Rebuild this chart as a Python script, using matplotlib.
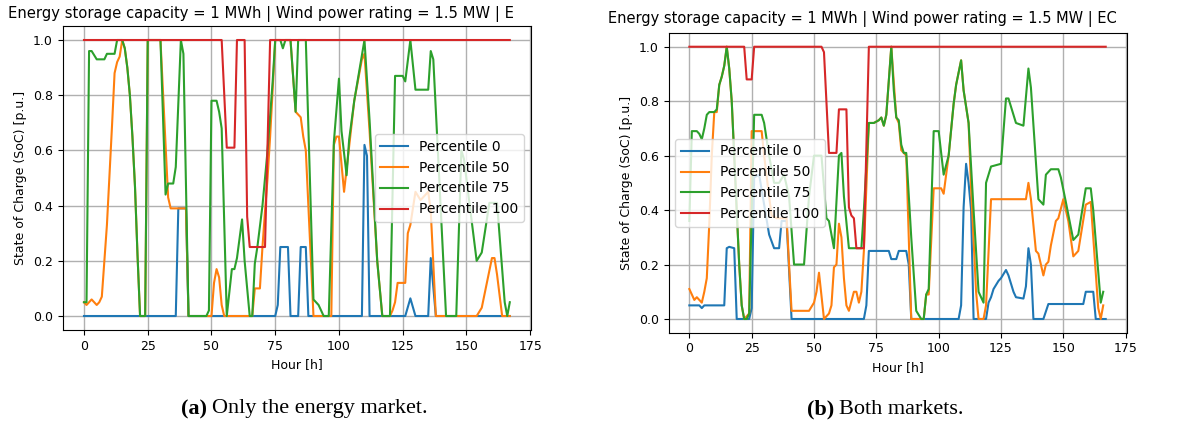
import matplotlib.pyplot as plt

# ---------------------------------------------------------------
# State of charge per percentile, hourly breakpoints (hour, SoC)
# ---------------------------------------------------------------
# (a) energy market only
em_p0_h = [0, 36, 37, 40, 41, 75, 76, 77, 80, 81, 84, 85, 87, 88, 109, 110, 111, 112,
           126, 128, 130, 135, 136, 138, 167]
em_p0_v = [0, 0, 0.39, 0.39, 0, 0, 0.04, 0.25, 0.25, 0, 0, 0.25, 0.25, 0, 0, 0.62, 0.58, 0,
           0, 0.064, 0, 0, 0.21, 0, 0]

em_p50_h = [0, 1, 2, 3, 4, 5, 6, 7, 9, 11, 12, 13, 14, 15, 16, 17, 18, 19, 20, 21, 22, 24, 25,
            30, 33, 34, 40, 41, 50, 51, 52, 53, 54, 55, 66, 67, 69, 70, 71, 72, 73, 74, 75,
            81, 83, 85, 86, 87, 90, 97, 98, 99, 100, 102, 106, 109, 110, 112, 115, 117,
            120, 121, 122, 123, 126, 127, 128, 130, 132, 134, 135, 136, 138,
            154, 156, 158, 160, 161, 162, 164, 167]
em_p50_v = [0.05, 0.04, 0.05, 0.06, 0.05, 0.04, 0.05, 0.07, 0.33, 0.69, 0.88, 0.92, 0.94, 1.0, 0.97,
            0.9, 0.8, 0.65, 0.47, 0.22, 0, 0, 1.0,
            1.0, 0.43, 0.39, 0.39, 0, 0, 0.12, 0.17, 0.14, 0.04, 0, 0, 0.1, 0.1, 0.25, 0.38, 0.5,
            0.65, 0.82, 1.0,
            1.0, 0.74, 0.72, 0.65, 0.6, 0, 0, 0.62, 0.65, 0.65, 0.45, 0.78, 0.93, 0.95, 0.67, 0.2, 0,
            0, 0.02, 0.05, 0.12, 0.12, 0.3, 0.33, 0.45, 0.42, 0.44, 0.45, 0.38, 0,
            0, 0.03, 0.12, 0.21, 0.21, 0.15, 0, 0]

em_p75_h = [0, 1, 2, 3, 5, 8, 9, 12, 13, 15, 16, 17, 18, 19, 20, 21, 22, 24, 25, 30, 32, 33,
            35, 36, 38, 39, 41, 48, 49, 50, 52, 53, 54, 56, 58, 59, 60, 62, 63, 65, 66, 67, 68,
            70, 72, 74, 75, 77, 78, 79, 81, 83, 84, 87, 90, 92, 94, 96, 98, 100, 101, 103,
            104, 106, 110, 112, 115, 117, 120, 122, 125, 126, 128, 130, 135, 136, 137, 142,
            146, 148, 149, 154, 156, 159, 162, 165, 166, 167]
em_p75_v = [0.05, 0.05, 0.96, 0.96, 0.93, 0.93, 0.95, 0.95, 1.0, 1.0, 0.97, 0.9, 0.8, 0.65, 0.47,
            0.22, 0, 0, 1.0, 1.0, 0.44, 0.48,
            0.48, 0.54, 1.0, 0.95, 0, 0, 0.02, 0.78, 0.78, 0.74, 0.68, 0, 0.17, 0.17, 0.21, 0.35,
            0.2, 0, 0, 0.19, 0.25,
            0.4, 0.6, 0.85, 1.0, 1.0, 0.97, 1.0, 1.0, 0.74, 1.0, 1.0, 0.06, 0.04, 0, 0, 0.63,
            0.86, 0.67, 0.51,
            0.64, 0.78, 1.0, 0.71, 0.2, 0, 0, 0.87, 0.87, 0.85, 1.0, 0.82, 0.82, 0.96, 0.93, 0,
            0, 0.6, 0.57, 0.2, 0.23, 0.41, 0.41, 0.05, 0, 0.05]

em_p100_h = [0, 54, 56, 59, 60, 63, 64, 65, 71, 73, 167]
em_p100_v = [1, 1, 0.61, 0.61, 1, 1, 0.36, 0.25, 0.25, 1, 1]

# (b) both markets
bm_p0_h = [0, 3, 4, 5, 6, 14, 15, 16, 18, 19, 24, 25, 26, 28, 30, 32, 34, 36, 37, 39, 41,
           70, 71, 72, 80, 81, 83, 84, 87, 88, 89, 108, 109, 110, 111, 112, 113, 114,
           119, 120, 121, 122, 124, 125, 127, 128, 130, 131, 134, 135, 136, 137, 138,
           142, 144, 158, 159, 162, 163, 167]
bm_p0_v = [0.05, 0.05, 0.05, 0.04, 0.05, 0.05, 0.26, 0.265, 0.26, 0, 0, 0.04, 0.52, 0.53, 0.42,
           0.31, 0.26, 0.26, 0.36, 0.36, 0,
           0, 0.05, 0.25, 0.25, 0.22, 0.22, 0.25, 0.25, 0.2, 0, 0, 0.05, 0.41, 0.57, 0.5, 0.4, 0,
           0, 0.06, 0.08, 0.11, 0.14, 0.15, 0.18, 0.16, 0.1, 0.08, 0.075, 0.12, 0.26, 0.2, 0,
           0, 0.055, 0.055, 0.1, 0.1, 0, 0]

bm_p50_h = [0, 1, 2, 3, 4, 5, 6, 7, 8, 9, 10, 11, 12, 13, 14, 15, 16, 17, 18, 19, 20, 21, 22,
            24, 25, 29, 30, 32, 33, 35, 39, 41, 48, 50, 51, 52, 54, 56, 57, 58, 59, 60, 61, 62,
            63, 64, 66, 67, 68, 69, 70, 72, 74, 76, 77, 78, 79, 81, 83, 84, 85, 87, 89, 94,
            95, 96, 98, 101, 102, 104, 106, 107, 109, 110, 112, 113, 115, 116, 118, 119, 121,
            135, 136, 137, 139, 140, 142, 143, 144, 145, 147, 148, 150, 152, 154, 156, 159,
            161, 164, 165, 166]
bm_p50_v = [0.11, 0.09, 0.07, 0.08, 0.07, 0.06, 0.1, 0.15, 0.35, 0.6, 0.76, 0.76, 0.86, 0.89,
            0.93, 1.0, 0.92, 0.8, 0.6, 0.4, 0.2, 0.05, 0,
            0.02, 0.69, 0.69, 0.6, 0.45, 0.38, 0.37, 0.37, 0.03, 0.03, 0.06, 0.1, 0.17, 0, 0.02,
            0.05, 0.19, 0.2, 0.35, 0.3, 0.15,
            0.05, 0.03, 0.1, 0.1, 0.06, 0.1, 0.25, 0.72, 0.72, 0.73, 0.74, 0.71, 0.75, 1.0, 0.74,
            0.72, 0.62, 0.6, 0, 0,
            0.09, 0.09, 0.48, 0.48, 0.46, 0.6, 0.79, 0.86, 0.95, 0.84, 0.72, 0.48, 0.1, 0, 0,
            0.05, 0.44,
            0.44, 0.5, 0.44, 0.25, 0.24, 0.16, 0.2, 0.21, 0.27, 0.36, 0.37, 0.44, 0.36, 0.23,
            0.25, 0.42,
            0.43, 0.04, 0, 0.05]

bm_p75_h = [0, 1, 3, 4, 5, 6, 7, 8, 10, 11, 12, 13, 14, 15, 16, 17, 18, 19, 20, 21, 22, 23,
            24, 26, 29, 30, 32, 34, 36, 38, 40, 42, 46, 48, 50, 52, 53, 55, 56, 58, 60, 61, 62,
            64, 69, 70, 72, 74, 76, 77, 78, 79, 81, 82, 83, 84, 85, 86, 87, 89, 91, 93, 94, 95,
            96, 98, 100, 102, 104, 106, 107, 109, 110, 112, 114, 116, 117, 118, 119, 121, 125,
            127, 128, 130, 131, 134, 136, 137, 140, 142, 143, 145, 148, 149, 151, 154, 156, 159,
            161, 162, 165, 166]
bm_p75_v = [0.36, 0.69, 0.69, 0.68, 0.66, 0.7, 0.75, 0.76, 0.76, 0.77, 0.86, 0.89, 0.93, 1.0,
            0.92, 0.8, 0.6, 0.4, 0.2, 0.05, 0, 0,
            0.02, 0.75, 0.75, 0.72, 0.6, 0.5, 0.5, 0.53, 0.45, 0.2, 0.2, 0.45, 0.6, 0.6, 0.6,
            0.37, 0.36, 0.26, 0.6, 0.61, 0.45,
            0.26, 0.26, 0.4, 0.72, 0.72, 0.73, 0.74, 0.71, 0.75, 1.0, 0.84, 0.74, 0.73, 0.64,
            0.61, 0.61, 0.3, 0.03, 0, 0, 0.09,
            0.11, 0.69, 0.69, 0.53, 0.6, 0.79, 0.86, 0.95, 0.84, 0.72, 0.4, 0.1, 0.08, 0.06, 0.5,
            0.56, 0.57,
            0.81, 0.81, 0.75, 0.72, 0.71, 0.92, 0.85, 0.44, 0.42, 0.53, 0.55, 0.55, 0.52, 0.43,
            0.29, 0.31, 0.48,
            0.48, 0.4, 0.06, 0.1]

bm_p100_h = [0, 22, 23, 25, 26, 53, 54, 56, 59, 60, 63, 64, 65, 66, 67, 70, 72, 167]
bm_p100_v = [1, 1, 0.88, 0.88, 1, 1, 0.98, 0.61, 0.61, 0.77, 0.77, 0.41, 0.38, 0.37, 0.26, 0.26,
             1, 1]

labels = ['Percentile 0', 'Percentile 50', 'Percentile 75', 'Percentile 100']
title_left = 'Energy storage capacity = 1 MWh | Wind power rating = 1.5 MW | E'
title_right = 'Energy storage capacity = 1 MWh | Wind power rating = 1.5 MW | EC'

fig = plt.figure(figsize=(11.94, 4.29), dpi=100)
ax1 = fig.add_axes([0.0525, 0.2312, 0.3923, 0.7077])
ax2 = fig.add_axes([0.5599, 0.2247, 0.3836, 0.6981])

panels = [
    (ax1, [(em_p0_h, em_p0_v), (em_p50_h, em_p50_v), (em_p75_h, em_p75_v), (em_p100_h, em_p100_v)],
     'center right'),
    (ax2, [(bm_p0_h, bm_p0_v), (bm_p50_h, bm_p50_v), (bm_p75_h, bm_p75_v), (bm_p100_h, bm_p100_v)],
     'center left'),
]

for ax, series, loc in panels:
    for (h, v), lab in zip(series, labels):
        ax.plot(h, v, lw=1.5, label=lab)
    ax.set_xticks([0, 25, 50, 75, 100, 125, 150, 175])
    ax.set_yticks([0.0, 0.2, 0.4, 0.6, 0.8, 1.0])
    ax.tick_params(labelsize=9)
    ax.grid(True, lw=1.0)
    ax.set_xlabel('Hour [h]', fontsize=9)
    ax.set_ylabel('State of Charge (SoC) [p.u.]', fontsize=9)
    ax.legend(loc=loc, fontsize=10)

fig.text(8 / 1194, 1 - 14 / 429, title_left, fontsize=10.6, ha='left', va='center')
fig.text(608 / 1194, 1 - 19 / 429, title_right, fontsize=10.5, ha='left', va='center')

# sub-figure captions
cap_kw = dict(family='Liberation Serif', fontsize=16, va='center')
fig.text(207 / 1194, 1 - 409 / 429, '(a)', weight='bold', ha='right', **cap_kw)
fig.text(212 / 1194, 1 - 409 / 429, 'Only the energy market.', ha='left', **cap_kw)
fig.text(834 / 1194, 1 - 409 / 429, '(b)', weight='bold', ha='right', **cap_kw)
fig.text(839 / 1194, 1 - 409 / 429, 'Both markets.', ha='left', **cap_kw)

fig.savefig('out.png', dpi=100)
